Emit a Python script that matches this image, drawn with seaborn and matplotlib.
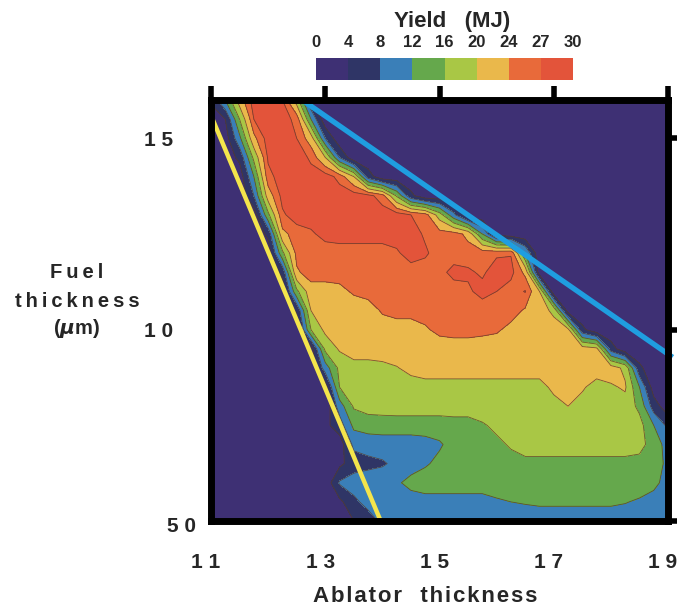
import numpy as np
import matplotlib
matplotlib.use("Agg")
import matplotlib.pyplot as plt
from matplotlib.transforms import ScaledTranslation
import seaborn as sns

sns.set_theme(style="white")
plt.rcParams['font.family'] = ['Liberation Sans', 'DejaVu Sans']
plt.rcParams['font.weight'] = 'bold'

# yield bands (MJ) and their colours
levels = [0, 4, 8, 12, 16, 20, 24, 27, 30]
band_colors = ["#3e3074", "#2f3566", "#3a7fb8", "#65a84c",
               "#a9c745", "#eab84b", "#e86a3a", "#e3543a"]

# sample grid
ablator = [11.0, 11.25, 11.5, 11.75, 12.0, 12.25, 12.5, 12.75, 13.0, 13.25, 13.5,
           13.75, 14.0, 14.25, 14.5, 14.75, 15.0, 15.25, 15.5, 15.75, 16.0, 16.25,
           16.5, 16.75, 17.0, 17.25, 17.5, 17.75, 18.0, 18.25, 18.5, 18.75, 19.0]
fuel = [16.0, 15.5, 15.0, 14.5, 14.0, 13.5, 13.0, 12.5, 12.0, 11.5, 11.0, 10.5,
        10.0, 9.5, 9.0, 8.5, 8.0, 7.5, 7.0, 6.5, 6.0, 5.5, 5.0]

# estimated yield at each grid point, one row per fuel thickness (top row first)
yield_rows = [
    [5, 12, 22, 28.5, 28.5, 27, 18, 4, 1, 1, 1, 1, 1, 1, 1, 1, 1, 1, 1, 1, 1, 1, 1, 1, 1, 1, 1, 1, 1, 1, 1, 1, 1],
    [1, 4, 16, 27, 28.5, 28.5, 26, 12, 1, 1, 1, 1, 1, 1, 1, 1, 1, 1, 1, 1, 1, 1, 1, 1, 1, 1, 1, 1, 1, 1, 1, 1, 1],
    [1, 2, 11, 23, 28.5, 28.5, 27, 22, 8, 1, 1, 1, 1, 1, 1, 1, 1, 1, 1, 1, 1, 1, 1, 1, 1, 1, 1, 1, 1, 1, 1, 1, 1],
    [1, 1.5, 5, 17, 27.5, 28.5, 28.5, 26.5, 20, 8, 1, 1, 1, 1, 1, 1, 1, 1, 1, 1, 1, 1, 1, 1, 1, 1, 1, 1, 1, 1, 1, 1, 1],
    [1, 1, 1.5, 12, 26, 28.5, 28.5, 28, 28.5, 26, 20, 6, 1, 1, 1, 1, 1, 1, 1, 1, 1, 1, 1, 1, 1, 1, 1, 1, 1, 1, 1, 1, 1],
    [1, 1, 1, 8, 22, 28, 28.5, 28.5, 28.5, 28.5, 28.5, 28, 25.5, 15.5, 5, 1, 1, 1, 1, 1, 1, 1, 1, 1, 1, 1, 1, 1, 1, 1, 1, 1, 1],
    [1, 1, 1, 1.5, 15, 26.5, 28.5, 28.5, 28.5, 28.5, 28.5, 28.5, 28.5, 28.5, 27, 25.5, 18, 9, 1.5, 1, 1, 1, 1, 1, 1, 1, 1, 1, 1, 1, 1, 1, 1],
    [1, 1, 1, 1, 5, 23, 25.5, 26.5, 28, 28.5, 28.5, 28.5, 28.5, 28.5, 28.5, 26.5, 25.5, 25.5, 23, 12, 2, 1, 1, 1, 1, 1, 1, 1, 1, 1, 1, 1, 1],
    [1, 1, 1, 1, 1.5, 15, 25, 25.5, 25.5, 25.5, 25.5, 25.5, 25.5, 26.5, 28.5, 27.5, 25.5, 25.5, 25.5, 26, 26.5, 26.8, 12, 1, 1, 1, 1, 1, 1, 1, 1, 1, 1],
    [1, 1, 1, 1, 1, 5, 23.5, 25.5, 25.5, 25.5, 25.5, 25.5, 25.5, 25.5, 25.5, 25.5, 26, 28, 27.5, 26.5, 28.5, 28, 23, 1.5, 1, 1, 1, 1, 1, 1, 1, 1, 1],
    [1, 1, 1, 1, 1, 1.5, 15, 22.5, 22.5, 23, 24.5, 25.5, 25.5, 25.5, 25.5, 25.5, 25.5, 25.5, 26.5, 28, 27, 25.5, 27.2, 20, 1, 1, 1, 1, 1, 1, 1, 1, 1],
    [1, 1, 1, 1, 1, 1, 4.5, 20, 22, 22, 22, 22, 24.5, 25.5, 25.5, 25.5, 25.5, 25.5, 25.5, 25.5, 25.5, 25.5, 23.5, 22, 19, 2, 1, 1, 1, 1, 1, 1, 1],
    [1, 1, 1, 1, 1, 1, 1, 16, 21, 22, 22, 22, 22, 22, 22, 23.5, 25, 25.5, 25.5, 25, 24.5, 23, 22, 22, 22, 21, 5, 1, 1, 1, 1, 1, 1],
    [1, 1, 1, 1, 1, 1, 1, 2, 17, 20.5, 22, 22, 22, 22, 22, 22, 22, 22, 22, 22, 22, 22, 22, 22, 22, 22, 22, 21, 6, 1, 1, 1, 1],
    [1, 1, 1, 1, 1, 1, 1, 1, 10, 17, 18.5, 18.5, 19, 19.8, 21, 22, 22, 22, 22, 22, 22, 22, 22, 22, 22, 22, 22, 22, 22, 19, 5, 1, 1],
    [1, 1, 1, 1, 1, 1, 1, 1, 2, 16, 18.5, 18.5, 18.5, 18.5, 18.5, 18.5, 18.5, 18.5, 18.5, 18.5, 18.5, 18.5, 18.5, 18.5, 21, 22, 20.5, 18.5, 19.5, 20.5, 12, 2, 1],
    [1, 1, 1, 1, 1, 1, 1, 1, 1, 10, 16.5, 17.5, 17.8, 18, 18, 18, 18, 18.5, 18.5, 18.5, 18.5, 18.5, 18.5, 18.5, 18.5, 20, 18.5, 18.5, 18.5, 18.5, 15, 6, 1.5],
    [1, 1, 1, 1, 1, 1, 1, 1, 3, 6, 13, 14, 14, 14, 14, 14, 14, 14, 14, 15.5, 17, 18.5, 18.5, 18.5, 18.5, 18.5, 18.5, 18.5, 18.5, 18.5, 17.5, 12, 7],
    [1, 1, 1, 1, 1, 1, 1, 1, 1, 2, 9, 9.5, 10, 10, 10, 10.5, 11.5, 13.5, 14, 14, 15, 16.5, 18.5, 18.5, 18.5, 18.5, 18.5, 18.5, 18.5, 18.5, 17.5, 14, 10.5],
    [1, 1, 1, 1, 1, 1, 1, 1, 1, 3, 6, 7, 7.5, 9, 10.5, 11.5, 13, 14.5, 14.5, 14.5, 14.5, 14.5, 14.5, 14.5, 14.5, 14.5, 14.5, 14.5, 14.5, 14.5, 14.5, 14, 11],
    [1, 1, 1, 1, 1, 1, 1, 1, 1, 8.5, 10, 10, 10.5, 11.5, 13, 14, 14, 14, 14, 14, 14, 14, 14, 14, 14, 14, 14, 14, 14, 14, 14, 13, 10.5],
    [1, 1, 1, 1, 1, 1, 1, 1, 1, 3, 7, 9.5, 10.5, 10.5, 10.5, 10.5, 10.5, 10.5, 10.5, 10.5, 11.5, 12, 12.3, 12.6, 12.6, 12.6, 12.6, 12.6, 12.6, 12.2, 11.5, 10.5, 10],
    [1, 1, 1, 1, 1, 1, 1, 1, 1, 1, 4, 6, 9, 10, 10, 10, 10, 10, 10, 10, 10, 10, 10, 10, 10, 10, 10, 10, 10, 10, 10, 10, 10],
]
for row in yield_rows:
    assert len(row) == len(ablator), len(row)

# design limit lines
yellow_x = [11.0, 13.97]
yellow_y = [15.6, 5.0]
blue_x = [12.6, 19.08]
blue_y = [16.0, 9.28]

x_ticks = [11, 13, 15, 17, 19]
x_labels = ["1 1", "1 3", "1 5", "1 7", "1 9"]
y_ticks = [5, 10, 15]
y_labels = ["5 0", "1 0", "1 5"]

Z = np.array(yield_rows)[::-1]
Y = np.array(fuel)[::-1]
X = np.array(ablator)

fig = plt.figure(figsize=(6.77, 6.10), dpi=100)
ax = fig.add_axes([0.3117, 0.1459, 0.675, 0.690])

cf = ax.contourf(X, Y, Z, levels=levels, colors=band_colors)
ax.contour(X, Y, Z, levels=levels[1:-1], colors="#5b3a2a", linewidths=0.6, alpha=0.8)

ax.plot(yellow_x, yellow_y, color="#f4e54c", lw=3.2, solid_capstyle="butt")
ax.plot(blue_x, blue_y, color="#1f9ee0", lw=3.8, solid_capstyle="butt", clip_on=False)

ax.set_xlim(11, 19)
ax.set_ylim(5, 16)
for s in ax.spines.values():
    s.set_linewidth(5)
    s.set_color("black")
    s.set_zorder(5)

ax.set_xticks(x_ticks)
ax.set_xticklabels(x_labels, fontsize=15, fontweight="bold")
ax.set_yticks(y_ticks)
ax.set_yticklabels(y_labels, fontsize=15, fontweight="bold")
ax.tick_params(axis="both", direction="out", length=10, width=4, color="black",
               top=True, right=True)
ax.tick_params(axis="x", pad=13)
ax.tick_params(axis="y", pad=17)
for lab in ax.get_xticklabels():
    lab.set_transform(lab.get_transform() + ScaledTranslation(-0.05, 0, fig.dpi_scale_trans))
lab5 = ax.get_yticklabels()[0]
lab5.set_transform(lab5.get_transform() + ScaledTranslation(0.22, -0.03, fig.dpi_scale_trans))

# colour bar on top
cax = fig.add_axes([0.4668, 0.8689, 0.3796, 0.036])
cb = fig.colorbar(cf, cax=cax, orientation="horizontal", spacing="uniform", ticks=levels)
cb.outline.set_visible(False)
cax.xaxis.set_ticks_position("top")
cax.tick_params(length=0, pad=6)
cax.set_xticklabels([str(v) for v in levels], fontsize=12, fontweight="bold")
fig.text(452 / 677, 1 - 22 / 610, "Yield   (MJ)", ha="center", va="center",
         fontsize=16, fontweight="bold")

# axis titles
thin = "\u2009"
fig.text(77 / 677, 1 - 272 / 610, thin.join("Fuel"), ha="center", va="center",
         fontsize=14.5, fontweight="bold")
fig.text(77 / 677, 1 - 301 / 610, thin.join("thickness"), ha="center", va="center",
         fontsize=14.5, fontweight="bold")
fig.text(77 / 677, 1 - 329 / 610, r"($\mu$m)", ha="center", va="center",
         fontsize=14.5, fontweight="bold")
fig.text(425 / 677, 1 - 597 / 610, "\u200a".join("Ablator") + "   " + "\u200a".join("thickness"),
         ha="center", va="center", fontsize=16, fontweight="bold")

fig.savefig("out.png", dpi=100)
